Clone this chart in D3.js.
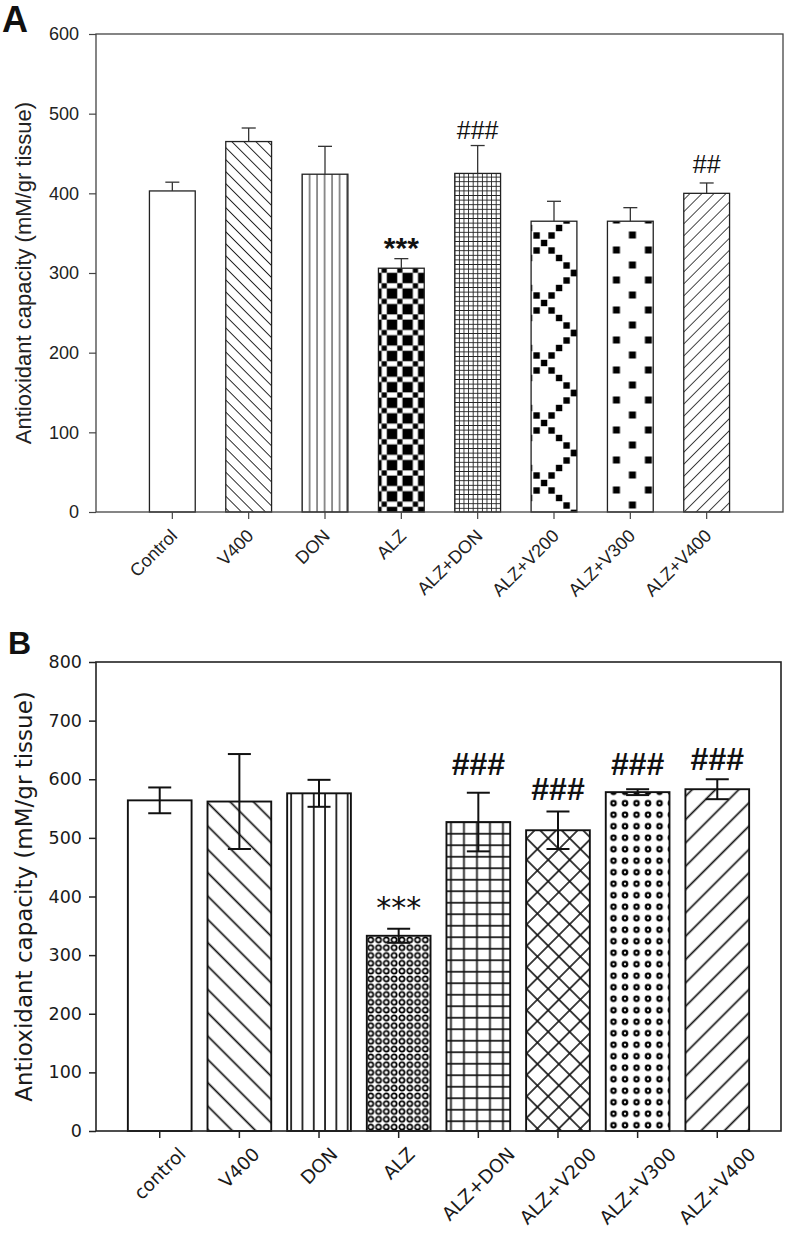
<!DOCTYPE html>
<html><head><meta charset="utf-8">
<script src="https://cdn.jsdelivr.net/npm/d3@7"></script>
<style>body{margin:0;background:#fff}svg{display:block}</style>
</head><body>
<svg id="c" width="793" height="1246"></svg>
<script>
// ---------- Panel A data ----------
const categoriesA = ["Control","V400","DON","ALZ","ALZ+DON","ALZ+V200","ALZ+V300","ALZ+V400"];
const valuesA = [403, 465, 424, 306, 425, 365, 365, 400];
const errorsA = [11, 17, 35, 12, 35, 25, 17, 13];
const sigA = ["", "", "", "***", "###", "", "", "##"];
const sigPosA = [null, null, null, 341, 479, null, null, 437];
const ticksA = [0, 100, 200, 300, 400, 500, 600];

// ---------- Panel B data ----------
const categoriesB = ["control","V400","DON","ALZ","ALZ+DON","ALZ+V200","ALZ+V300","ALZ+V400"];
const valuesB = [564, 562, 576, 333, 527, 513, 578, 583];
const errorsB = [22, 81, 23, 12, 50, 32, 5, 17];
const sigB = ["", "", "", "***", "###", "###", "###", "###"];
const sigPosB = [null, null, null, 392, 626, 584, 626, 635];
const ticksB = [0, 100, 200, 300, 400, 500, 600, 700, 800];

const svg = d3.select("#c");
const defs = svg.append("defs");

function linePattern(id, period, angle, color, sw) {
  const p = defs.append("pattern").attr("id", id).attr("patternUnits", "userSpaceOnUse")
    .attr("width", period).attr("height", period)
    .attr("patternTransform", `rotate(${angle})`);
  p.append("rect").attr("width", period).attr("height", period).attr("fill", "#fff");
  p.append("line").attr("x1", period / 2).attr("x2", period / 2).attr("y1", -1).attr("y2", period + 1)
    .attr("stroke", color).attr("stroke-width", sw);
  return p;
}
function vlinePattern(id, period, x0, color, sw) {
  const p = defs.append("pattern").attr("id", id).attr("patternUnits", "userSpaceOnUse")
    .attr("x", x0 - period / 2).attr("width", period).attr("height", 10);
  p.append("rect").attr("width", period).attr("height", 10).attr("fill", "#fff");
  p.append("line").attr("x1", period / 2).attr("x2", period / 2).attr("y1", -1).attr("y2", 11)
    .attr("stroke", color).attr("stroke-width", sw);
}
function gridPattern(id, w, h, x0, color, sw, angle) {
  const p = defs.append("pattern").attr("id", id).attr("patternUnits", "userSpaceOnUse")
    .attr("x", x0).attr("width", w).attr("height", h);
  if (angle) p.attr("patternTransform", `rotate(${angle})`);
  p.append("rect").attr("width", w).attr("height", h).attr("fill", "#fff");
  p.append("line").attr("x1", w / 2).attr("x2", w / 2).attr("y1", -1).attr("y2", h + 1)
    .attr("stroke", color).attr("stroke-width", sw);
  p.append("line").attr("y1", h / 2).attr("y2", h / 2).attr("x1", -1).attr("x2", w + 1)
    .attr("stroke", color).attr("stroke-width", sw);
}

// ---------- layout ----------
const A = { left: 96, right: 783, top: 34, bottom: 512 };
const B = { left: 96, right: 781, top: 662, bottom: 1131 };

const xA = d3.scaleBand().domain(categoriesA).range([A.left, A.right]).paddingInner(0.4).paddingOuter(0.7);
const yA = d3.scaleLinear().domain([0, 600]).range([A.bottom, A.top]);
const xB = d3.scaleBand().domain(categoriesB).range([B.left, B.right]).paddingInner(0.2).paddingOuter(0.4);
const yB = d3.scaleLinear().domain([0, 800]).range([B.bottom, B.top]);

// ---------- patterns for A ----------
const cA = "#222";
linePattern("aV400", 8.5, -45, cA, 1);
vlinePattern("aDON", 7.5, xA("DON"), cA, 1);
gridPattern("aALZDON", 4.6, 4.6, xA("ALZ+DON") - 2.3, cA, 0.9);
linePattern("aALZV400", 8.5, 45, "#333", 0.9);
// checker/cross pattern for ALZ
(function () {
  const c = 5.2, t = 15.6;
  const p = defs.append("pattern").attr("id", "aALZ").attr("patternUnits", "userSpaceOnUse")
    .attr("x", xA("ALZ") - 2).attr("y", A.bottom).attr("width", t).attr("height", t);
  p.append("rect").attr("width", t).attr("height", t).attr("fill", "#fff");
  [[0,0],[2,0],[1,1],[0,2],[2,2]].forEach(([i,j]) =>
    p.append("rect").attr("x", i * c).attr("y", j * c).attr("width", c).attr("height", c).attr("fill", "#000"));
})();
// diamond lattice of squares for ALZ+V200
(function () {
  const t = 60, s = 6.4, step = 7.5;
  const p = defs.append("pattern").attr("id", "aALZV200").attr("patternUnits", "userSpaceOnUse")
    .attr("x", xA("ALZ+V200") + 13).attr("y", A.bottom - 209).attr("width", t).attr("height", t);
  p.append("rect").attr("width", t).attr("height", t).attr("fill", "#fff");
  for (let i = 0; i <= 8; i++) {
    p.append("rect").attr("x", i * step - s / 2).attr("y", i * step - s / 2).attr("width", s).attr("height", s).attr("fill", "#000");
    p.append("rect").attr("x", i * step - s / 2).attr("y", t - i * step - s / 2).attr("width", s).attr("height", s).attr("fill", "#000");
  }
})();
// staggered squares for ALZ+V300
(function () {
  const w = 32, h = 30, s = 7;
  const p = defs.append("pattern").attr("id", "aALZV300").attr("patternUnits", "userSpaceOnUse")
    .attr("x", xA("ALZ+V300") + 9).attr("y", A.bottom - 22).attr("width", w).attr("height", h);
  p.append("rect").attr("width", w).attr("height", h).attr("fill", "#fff");
  [[0,0],[w,0],[0,h],[w,h],[w/2,h/2]].forEach(([x,y]) =>
    p.append("rect").attr("x", x - s/2).attr("y", y - s/2).attr("width", s).attr("height", s).attr("fill", "#000"));
})();
const fillsA = ["#fff", "url(#aV400)", "url(#aDON)", "url(#aALZ)", "url(#aALZDON)", "url(#aALZV200)", "url(#aALZV300)", "url(#aALZV400)"];

// ---------- patterns for B ----------
linePattern("bV400", 16.5, -45, "#111", 1.7);
vlinePattern("bDON", 11.3, xB("DON") + 4, "#111", 1.7);
gridPattern("bALZDON", 13, 11.5, xB("ALZ+DON") - 2, "#111", 1.7);
gridPattern("bALZV200", 15.2, 15.2, 0, "#111", 1.6, 45);
linePattern("bALZV400", 16.5, 45, "#111", 1.7);
(function () {
  const t = 7.8;
  const p = defs.append("pattern").attr("id", "bALZ").attr("patternUnits", "userSpaceOnUse")
    .attr("x", xB("ALZ")).attr("y", B.bottom).attr("width", t).attr("height", t);
  p.append("rect").attr("width", t).attr("height", t).attr("fill", "#fff");
  p.append("circle").attr("cx", t / 2).attr("cy", t / 2).attr("r", 2.6).attr("fill", "none").attr("stroke", "#000").attr("stroke-width", 1.7);
})();
(function () {
  const t = 11.5;
  const p = defs.append("pattern").attr("id", "bALZV300").attr("patternUnits", "userSpaceOnUse")
    .attr("x", xB("ALZ+V300") + 2).attr("y", B.bottom).attr("width", t).attr("height", t);
  p.append("rect").attr("width", t).attr("height", t).attr("fill", "#fff");
  p.append("circle").attr("cx", t / 2).attr("cy", t / 2).attr("r", 3.3).attr("fill", "#000");
  p.append("circle").attr("cx", t / 2).attr("cy", t / 2).attr("r", 1.1).attr("fill", "#fff");
})();
const fillsB = ["#fff", "url(#bV400)", "url(#bDON)", "url(#bALZ)", "url(#bALZDON)", "url(#bALZV200)", "url(#bALZV300)", "url(#bALZV400)"];

// ================= Panel A =================
const fontA = "'Liberation Sans', Arial, sans-serif";
const gA = svg.append("g").attr("font-family", fontA).attr("fill", "#222");

gA.append("text").attr("x", 2).attr("y", 32).attr("font-size", 36).attr("font-weight", "bold").attr("fill", "#111").text("A");

gA.selectAll("rect.bar").data(categoriesA).join("rect").attr("class", "bar")
  .attr("x", d => xA(d)).attr("width", xA.bandwidth())
  .attr("y", (d, i) => yA(valuesA[i])).attr("height", (d, i) => yA(0) - yA(valuesA[i]))
  .attr("fill", (d, i) => fillsA[i]).attr("stroke", "#222").attr("stroke-width", 1.3);

const ebA = gA.append("g").attr("stroke", "#333").attr("stroke-width", 1.3);
categoriesA.forEach((d, i) => {
  const cx = xA(d) + xA.bandwidth() / 2;
  ebA.append("line").attr("x1", cx).attr("x2", cx).attr("y1", yA(valuesA[i])).attr("y2", yA(valuesA[i] + errorsA[i]));
  ebA.append("line").attr("x1", cx - 7).attr("x2", cx + 7).attr("y1", yA(valuesA[i] + errorsA[i])).attr("y2", yA(valuesA[i] + errorsA[i]));
});

gA.append("rect").attr("x", A.left).attr("y", A.top).attr("width", A.right - A.left).attr("height", A.bottom - A.top)
  .attr("fill", "none").attr("stroke", "#444").attr("stroke-width", 1.3);

const axA = gA.append("g").attr("transform", `translate(${A.left},0)`)
  .call(d3.axisLeft(yA).tickValues(ticksA).tickSize(7).tickPadding(10).tickSizeOuter(0));
axA.select(".domain").remove();
axA.selectAll("line").attr("stroke", "#444").attr("stroke-width", 1.2);
axA.selectAll("text").attr("font-size", 18).attr("font-family", fontA).attr("fill", "#222");

const axAx = gA.append("g").attr("transform", `translate(0,${A.bottom})`)
  .call(d3.axisBottom(xA).tickSize(7).tickSizeOuter(0).tickFormat(""));
axAx.select(".domain").remove();
axAx.selectAll("line").attr("stroke", "#444").attr("stroke-width", 1.2);

gA.selectAll("text.xl").data(categoriesA).join("text").attr("class", "xl")
  .attr("transform", d => `translate(${xA(d) + xA.bandwidth() / 2 + 6},${A.bottom + 25}) rotate(-45)`)
  .attr("text-anchor", "end").attr("font-size", 18).text(d => d);

gA.append("text").attr("transform", `translate(31,${(A.top + A.bottom) / 2}) rotate(-90)`)
  .attr("text-anchor", "middle").attr("font-size", 22).text("Antioxidant capacity (mM/gr tissue)");

categoriesA.forEach((d, i) => {
  if (!sigA[i]) return;
  const star = sigA[i].startsWith("*");
  const fs = star ? 30 : 25;
  gA.append("text").attr("x", xA(d) + xA.bandwidth() / 2)
    .attr("y", yA(sigPosA[i]) + (star ? 0.575 : 0.35) * fs)
    .attr("text-anchor", "middle").attr("font-size", fs).attr("font-weight", star ? "bold" : "normal")
    .attr("fill", "#111").text(sigA[i]);
});

// ================= Panel B =================
const fontB = "'DejaVu Sans', Verdana, sans-serif";
const gB = svg.append("g").attr("font-family", fontB).attr("fill", "#1a1a1a");

gB.append("text").attr("x", 8).attr("y", 654).attr("font-size", 32).attr("font-weight", "bold")
  .attr("font-family", fontA).attr("fill", "#111").text("B");

gB.selectAll("rect.bar").data(categoriesB).join("rect").attr("class", "bar")
  .attr("x", d => xB(d)).attr("width", xB.bandwidth())
  .attr("y", (d, i) => yB(valuesB[i])).attr("height", (d, i) => yB(0) - yB(valuesB[i]))
  .attr("fill", (d, i) => fillsB[i]).attr("stroke", "#111").attr("stroke-width", 1.9);

const ebB = gB.append("g").attr("stroke", "#111").attr("stroke-width", 2);
categoriesB.forEach((d, i) => {
  const cx = xB(d) + xB.bandwidth() / 2;
  const hi = yB(valuesB[i] + errorsB[i]), lo = yB(valuesB[i] - errorsB[i]);
  ebB.append("line").attr("x1", cx).attr("x2", cx).attr("y1", lo).attr("y2", hi);
  ebB.append("line").attr("x1", cx - 11.5).attr("x2", cx + 11.5).attr("y1", hi).attr("y2", hi);
  ebB.append("line").attr("x1", cx - 11.5).attr("x2", cx + 11.5).attr("y1", lo).attr("y2", lo);
});

gB.append("rect").attr("x", B.left).attr("y", B.top).attr("width", B.right - B.left).attr("height", B.bottom - B.top)
  .attr("fill", "none").attr("stroke", "#222").attr("stroke-width", 1.6);

const axB = gB.append("g").attr("transform", `translate(${B.left},0)`)
  .call(d3.axisLeft(yB).tickValues(ticksB).tickSize(7).tickPadding(7).tickSizeOuter(0));
axB.select(".domain").remove();
axB.selectAll("line").attr("stroke", "#222").attr("stroke-width", 1.5);
axB.selectAll("text").attr("font-size", 17.5).attr("font-family", fontB).attr("fill", "#1a1a1a");

const axBx = gB.append("g").attr("transform", `translate(0,${B.bottom})`)
  .call(d3.axisBottom(xB).tickSize(7).tickSizeOuter(0).tickFormat(""));
axBx.select(".domain").remove();
axBx.selectAll("line").attr("stroke", "#222").attr("stroke-width", 1.5);

const fsBx = 18.5;
gB.selectAll("text.xl").data(categoriesB).join("text").attr("class", "xl")
  .attr("text-anchor", "middle").attr("dy", "0.35em").attr("font-size", fsBx).text(d => d)
  .each(function (d) {
    const L = this.getComputedTextLength();
    const half = (L + 0.73 * fsBx) / (2 * Math.SQRT2);
    d3.select(this).attr("transform", `translate(${xB(d) + xB.bandwidth() / 2},${B.bottom + 15 + half}) rotate(-45)`);
  });

gB.append("text").attr("transform", `translate(32,${(B.top + B.bottom) / 2}) rotate(-90)`)
  .attr("text-anchor", "middle").attr("font-size", 23).text("Antioxidant capacity (mM/gr tissue)");

categoriesB.forEach((d, i) => {
  if (!sigB[i]) return;
  const star = sigB[i].startsWith("*");
  const fs = star ? 30 : 32;
  gB.append("text").attr("x", xB(d) + xB.bandwidth() / 2)
    .attr("y", yB(sigPosB[i]) + (star ? 0.56 : 0.35) * fs)
    .attr("text-anchor", "middle").attr("font-size", fs).attr("font-weight", star ? "normal" : "bold")
    .attr("font-family", star ? fontB : fontA).attr("fill", "#111").text(sigB[i]);
});
</script>
</body></html>
